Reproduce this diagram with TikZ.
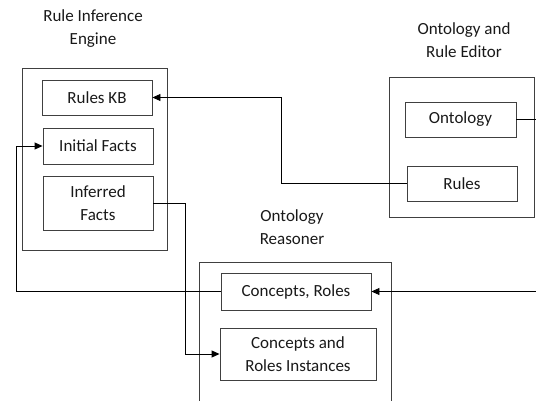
\documentclass[tikz,border=0pt]{standalone}
\usepackage{fontspec}
\setmainfont{Carlito}
\usetikzlibrary{arrows.meta}
\begin{document}
\begin{tikzpicture}[x=1pt,y=-1pt,
  every node/.style={font=\fontsize{17}{23}\selectfont, text=black!90, align=center},
  group/.style={draw=black!75, line width=0.9pt, inner sep=0pt},
  part/.style={draw=black!75, line width=0.9pt, inner sep=0pt},
  title/.style={inner sep=0pt},
  link/.style={draw=black, line width=0.9pt},
  arr/.style={link, -{Triangle[length=8pt,width=7pt]}}]
  \useasboundingbox (0,0) rectangle (536,401);
  \clip (0,0) rectangle (536,401);

  % Rule inference engine
  \node[title] (tEngine) at (93,28.5) {Rule Inference\\Engine};
  \node[group, minimum width=145pt, minimum height=182pt] (engine) at (94.5,159) {};
  \node[part, minimum width=110pt, minimum height=35pt] (ruleskb) at (97,97.5) {Rules KB};
  \node[part, minimum width=110pt, minimum height=36pt] (initial) at (98,146) {Initial Facts};
  \node[part, minimum width=110pt, minimum height=54pt] (inferred) at (98,203) {Inferred\\Facts};

  % Ontology and rule editor
  \node[title] (tEditor) at (464,40.5) {Ontology and\\Rule Editor};
  \node[group, minimum width=145pt, minimum height=140pt] (editor) at (461.5,147) {};
  \node[part, minimum width=111pt, minimum height=35pt] (ontology) at (460.5,119.5) {Ontology};
  \node[part, minimum width=110pt, minimum height=35pt] (rules) at (462,183.5) {Rules};

  % Ontology reasoner
  \node[title] (tReasoner) at (292,227.5) {Ontology\\Reasoner};
  \node[group, minimum width=192pt, minimum height=158pt] (reasoner) at (295,341) {};
  \node[part, minimum width=150pt, minimum height=37pt] (concepts) at (296,291.5) {Concepts, Roles};
  \node[part, minimum width=156pt, minimum height=52pt] (instances) at (298,354) {Concepts and\\Roles Instances};

  % routing points
  \coordinate (bendRules) at (281,0);
  \coordinate (loopLeft) at (16,0);
  \coordinate (dropInf) at (185,0);
  \coordinate (ontoExit) at (548,119.5);
  \coordinate (reasEntry) at (548,291.5);

  % connectors
  \draw[arr] (rules.west) -- (rules.west -| bendRules) |- (ruleskb.east);
  \draw[arr] (concepts.west) -- (concepts.west -| loopLeft) |- (initial.west);
  \draw[arr] (inferred.east) -- (inferred.east -| dropInf) |- (instances.west);
  \draw[link] (ontology.east) -- (ontoExit);
  \draw[arr] (reasEntry) -- (concepts.east);
\end{tikzpicture}
\end{document}
